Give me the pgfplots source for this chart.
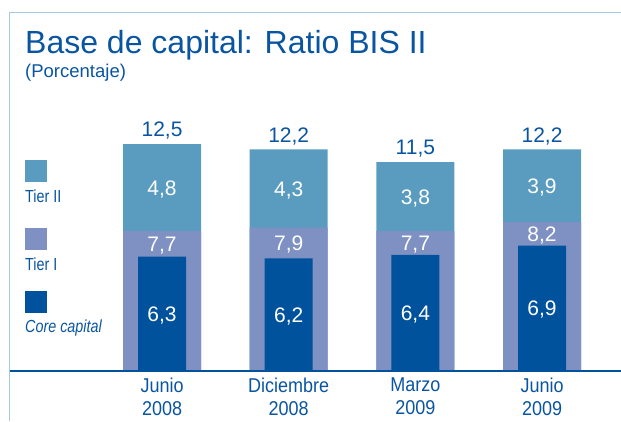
\documentclass[border=0pt]{standalone}
\usepackage{pgfplots}
\pgfplotsset{compat=1.18}
\usepackage{pgfplotstable}
\usepackage{fontspec}
\setmainfont{Liberation Sans}
\newfontfamily\ticksfont[FakeStretch=0.9]{Liberation Sans}
\newfontfamily\legfont[FakeStretch=0.82]{Liberation Sans}
\definecolor{ctwo}{HTML}{5A9CBF}
\definecolor{cone}{HTML}{7F90C3}
\definecolor{ccore}{HTML}{00529C}
\definecolor{txtblue}{HTML}{0A55A1}
\definecolor{framec}{HTML}{A3CBE0}

\pgfplotstableread{
x tot t1 cc t2
0 12.5 7.7 6.3 4.8
1 12.2 7.9 6.2 4.3
2 11.5 7.7 6.4 3.8
3 12.2 8.2 6.9 3.9
}\datatable

\begin{document}
\begin{tikzpicture}[x=1pt,y=1pt]
\begin{axis}[
  scale only axis, width=611pt, height=254.2pt,
  xmin=-1.2, xmax=3.623, ymin=0, ymax=14,
  axis x line*=bottom, axis y line=none,
  x axis line style={draw=ccore, line width=1.3pt},
  xtick={0,1,2,3},
  xticklabels={{Junio\\2008},{Diciembre\\2008},{Marzo\\2009},{Junio\\2009}},
  xticklabel style={align=center, inner sep=0pt, anchor=north, yshift=-7pt,
    font=\ticksfont\fontsize{20}{22.7}\selectfont, text=txtblue},
  major tick length=0pt, ytick=\empty,
  clip=false, axis on top,
  /pgf/number format/use comma,
  /pgf/number format/fixed,
  /pgf/number format/fixed zerofill,
  /pgf/number format/precision=1,
  /pgf/number format/assume math mode=true,
]
\addplot[ybar, bar shift=0pt, bar width=0.616, fill=ctwo, draw=none] table[x=x, y=tot]{\datatable};
\addplot[ybar, bar shift=0pt, bar width=0.616, fill=cone, draw=none] table[x=x, y=t1]{\datatable};
\addplot[ybar, bar shift=0pt, bar width=0.379, fill=ccore, draw=none] table[x=x, y=cc]{\datatable};

% totals above bars
\addplot[draw=none, nodes near coords, point meta=explicit,
  nodes near coords style={anchor=base, inner sep=0pt, yshift=7.3pt, text=txtblue, font=\fontsize{21}{21}\selectfont}]
  table[x=x, y=tot, meta=tot]{\datatable};
% Tier II values
\addplot[draw=none, nodes near coords, point meta=explicit,
  nodes near coords style={anchor=base, inner sep=0pt, yshift=-7.5pt, text=white, font=\fontsize{21}{21}\selectfont}]
  table[x=x, y expr={(\thisrow{t1}+\thisrow{tot})/2}, meta=t2]{\datatable};
% Tier I values
\addplot[draw=none, nodes near coords, point meta=explicit,
  nodes near coords style={anchor=base, inner sep=0pt, yshift=-7.5pt, text=white, font=\fontsize{21}{21}\selectfont}]
  table[x=x, y expr={(\thisrow{t1}+\thisrow{cc})/2}, meta=t1]{\datatable};
% Core values
\addplot[draw=none, nodes near coords, point meta=explicit,
  nodes near coords style={anchor=base, inner sep=0pt, yshift=-7.5pt, text=white, font=\fontsize{21}{21}\selectfont}]
  table[x=x, y expr={\thisrow{cc}/2}, meta=cc]{\datatable};
\coordinate (O) at (rel axis cs:0,0);
\end{axis}

\pgfresetboundingbox
\begin{scope}[shift={(O)}, shift={(-10pt,-50pt)}]
\useasboundingbox (0,0) rectangle (621,421);
\draw[framec, line width=1.4pt] (9.5,0) -- (9.5,408.3) -- (621,408.3);

\node[anchor=base west, inner sep=0, text=txtblue, font=\fontsize{32}{32}\selectfont] at (25,367.7) {Base de capital: Ratio BIS II};
\node[anchor=base west, inner sep=0, text=txtblue, font=\fontsize{18.5}{18.5}\selectfont] at (25,343.7) {(Porcentaje)};

% legend
\fill[ctwo] (25,239) rectangle (47,261);
\node[anchor=base west, inner sep=0, text=txtblue, font=\legfont\fontsize{17.5}{17.5}\selectfont] at (25,218.7) {Tier II};
\fill[cone] (25,171) rectangle (47,193.3);
\node[anchor=base west, inner sep=0, text=txtblue, font=\legfont\fontsize{17.5}{17.5}\selectfont] at (25,151) {Tier I};
\fill[ccore] (25,108.3) rectangle (47,130);
\node[anchor=base west, inner sep=0, text=txtblue, font=\legfont\itshape\fontsize{17.5}{17.5}\selectfont] at (25,88.3) {Core capital};
\end{scope}
\end{tikzpicture}
\end{document}
